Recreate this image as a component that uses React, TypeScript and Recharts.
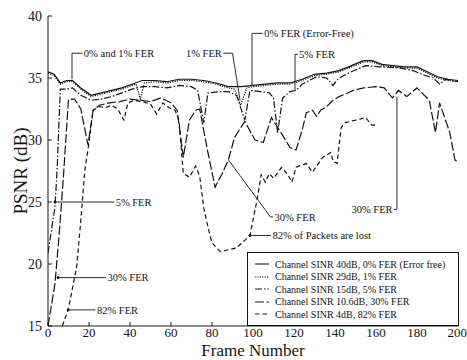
import React from 'react';
import { LineChart, Line, XAxis, YAxis, Legend, ReferenceDot } from 'recharts';

const FONT = '"Liberation Serif", "Times New Roman", Times, serif';
const INK = '#141414';

// ---- data (frame number, PSNR dB) ----
const sinr40_fer0: number[][] = [
  [0, 35.5], [3, 35.3], [6, 34.6], [9, 34.8], [12, 34.8], [16, 34.2], [21, 33.6], [26, 33.8], [31, 34.0], [36, 34.2],
  [41, 34.5], [46, 34.8], [52, 34.8], [58, 34.7], [64, 34.9], [70, 34.9], [76, 34.8], [82, 34.6], [88, 34.3], [94, 34.3],
  [100, 34.4], [106, 34.5], [112, 34.6], [118, 34.6], [124, 34.9], [130, 35.3], [136, 35.4], [142, 35.6], [148, 36.0],
  [154, 36.4], [158, 36.4], [163, 36.1], [168, 36.0], [174, 35.9], [180, 35.9], [185, 35.5], [190, 35.1], [195, 34.9], [200, 34.8],
];
const sinr29_fer1: number[][] = [
  [0, 35.4], [3, 35.2], [6, 34.5], [9, 34.7], [12, 34.7], [16, 34.1], [21, 33.5], [26, 33.7], [31, 33.9], [36, 34.1],
  [41, 34.4], [43, 34.5], [45, 33.3], [47, 34.6], [52, 34.7], [58, 34.6], [64, 34.8], [70, 34.8], [76, 34.7], [82, 34.5],
  [88, 34.2], [91, 34.1], [94, 32.8], [97, 34.2], [100, 34.3], [106, 34.4], [112, 34.5], [118, 34.5], [124, 34.8], [130, 35.2],
  [136, 35.3], [142, 35.5], [148, 35.9], [154, 36.3], [158, 36.3], [163, 36.0], [168, 35.9], [174, 35.8], [180, 35.8],
  [185, 35.4], [190, 35.0], [195, 34.8], [200, 34.7],
];
const sinr15_fer5: number[][] = [
  [0, 20.9], [3.4, 24.6], [4.5, 27.8], [6, 34.1], [9, 34.1], [12, 34.2], [16, 33.6], [21, 33.2], [26, 33.3], [31, 33.5],
  [36, 33.8], [41, 34.1], [46, 34.3], [52, 34.3], [58, 34.2], [64, 34.4], [70, 34.3], [73, 34.0], [76, 31.4], [78, 33.8],
  [84, 33.9], [88, 33.9], [92, 33.6], [96, 31.6], [98.5, 34.0], [104, 33.9], [108, 33.8], [110, 33.4], [112, 30.6],
  [114.5, 33.4], [118, 33.9], [121, 34.0], [124, 34.5], [131, 35.1], [136, 35.0], [139, 34.4], [142, 35.0], [148, 35.5],
  [155, 36.0], [162, 35.9], [172, 35.8], [178, 35.6], [184, 35.2], [188, 35.0], [191, 34.5], [194, 34.9], [200, 34.7],
];
const sinr10_fer30: number[][] = [
  [0, 15.0], [3.4, 18.4], [5.5, 22.5], [7.5, 27.0], [10, 33.3], [13, 33.3], [16, 32.5], [19.5, 29.6], [22, 32.4], [25, 32.8],
  [30, 33.0], [35, 33.1], [40, 33.3], [45, 33.2], [50, 33.1], [55, 33.4], [60, 33.0], [63, 32.4], [66, 28.6], [69, 31.6],
  [72, 32.4], [74, 32.5], [78, 29.0], [81.5, 26.2], [85, 27.3], [88, 28.4], [91, 30.2], [96, 31.5], [101, 30.0], [105, 29.8],
  [109, 31.8], [114, 30.5], [118, 29.4], [121, 29.2], [124, 30.8], [126, 32.2], [129, 32.4], [131, 31.9], [133, 32.4],
  [136, 32.7], [139, 33.2], [142, 33.5], [149, 34.0], [154, 34.2], [160, 34.3], [164, 34.2], [168, 33.4], [171, 34.0],
  [175, 33.5], [180, 34.2], [186, 33.2], [189, 30.6], [191, 33.0], [196, 30.6], [198.5, 28.4], [200, 28.2],
];
const sinr4_fer82: number[][] = [
  [7, 15.0], [10, 16.4], [14, 19.8], [16, 23.5], [18, 27.6], [19.5, 29.2], [22, 32.4], [25, 32.7], [28, 32.6], [31, 32.8],
  [34, 32.5], [37, 31.6], [39, 33.0], [42, 33.2], [46, 33.1], [50, 32.9], [53, 32.1], [56, 33.0], [59, 32.6], [62, 32.4],
  [64, 31.5], [66, 27.3], [69, 27.0], [72, 27.9], [74, 27.1], [76, 24.5], [78, 23.0], [80, 21.7], [84, 21.0], [92, 21.3],
  [98.5, 22.3], [102, 25.2], [104, 27.2], [106, 26.6], [108, 27.3], [110, 26.9], [114, 27.8], [117, 27.2], [119, 26.6],
  [121, 27.8], [124, 28.0], [126, 28.1], [129, 27.4], [134, 28.6], [138, 29.0], [139, 28.3], [141, 28.1], [143, 31.0],
  [145, 31.4], [150, 31.6], [155, 31.8], [158, 31.2], [161, 31.2],
];

const seriesNames = [
  'Channel SINR 40dB, 0% FER (Error free)',
  'Channel SINR 29dB, 1% FER',
  'Channel SINR 15dB, 5% FER',
  'Channel SINR 10.6dB, 30% FER',
  'Channel SINR 4dB, 82% FER',
];
const seriesData = [sinr40_fer0, sinr29_fer1, sinr15_fer5, sinr10_fer30, sinr4_fer82];
const seriesDash = [undefined, '1.2 1.2', '7 2 1.5 2', '9 2.5', '4.5 3'];

const xTicks = [0, 20, 40, 60, 80, 100, 120, 140, 160, 180, 200];
const yTicks = [15, 20, 25, 30, 35, 40];
const yTicksRight = [15, 17.5, 20, 22.5, 25, 27.5, 30, 32.5, 35, 37.5, 40];

// annotation texts with anchor (frame, dB) and leader polylines in data units
const annoTexts = [
  { text: '0% and 1% FER', f: 17, v: 37.0, side: 'right' },
  { text: '1% FER', f: 85.3, v: 37.0, side: 'left' },
  { text: '0% FER (Error-Free)', f: 105, v: 38.6, side: 'right' },
  { text: '5% FER', f: 122, v: 36.9, side: 'right' },
  { text: '5% FER', f: 32.5, v: 25.0, side: 'right' },
  { text: '30% FER', f: 28.5, v: 18.9, side: 'right' },
  { text: '82% FER', f: 23.4, v: 16.3, side: 'right' },
  { text: '30% FER', f: 110, v: 23.8, side: 'right' },
  { text: '82% of Packets are lost', f: 109, v: 22.3, side: 'right' },
  { text: '30% FER', f: 168.6, v: 24.4, side: 'left' },
];
const annoLeaders: number[][][] = [
  [[11.7, 34.9], [11.7, 37.0], [16.8, 37.0]],
  [[85.5, 37.0], [90, 37.0], [93.7, 33.2]],
  [[99.5, 34.4], [99.5, 38.6], [104.8, 38.6]],
  [[120.5, 34.0], [120.5, 36.9], [121.8, 36.9]],
  [[3.4, 25.0], [32.3, 25.0]],
  [[4.9, 18.9], [28.3, 18.9]],
  [[9.8, 16.3], [23.2, 16.3]],
  [[88, 28.4], [108.5, 23.8], [109.8, 23.8]],
  [[98.5, 22.3], [108.8, 22.3]],
  [[170.2, 33.5], [170.2, 24.4], [168.8, 24.4]],
];
const arrowTips = [[3.4, 25.0], [4.9, 18.9], [9.8, 16.3], [98.5, 22.3]];

const toPts = (arr: number[][]) => arr.map(([f, v]) => ({ f, v }));

function LegendBox() {
  return (
    <div
      style={{
        border: `1px solid ${INK}`,
        background: '#fff',
        boxSizing: 'border-box',
        width: 212,
        height: 74,
        padding: '5px 0 0 7px',
        fontFamily: FONT,
        fontSize: 10,
        color: INK,
      }}
    >
      {seriesNames.map((n, i) => (
        <div key={n} style={{ display: 'flex', alignItems: 'center', height: 12.5 }}>
          <svg width={16} height={8} style={{ marginRight: 4 }}>
            <line x1={0} y1={4} x2={14} y2={4} stroke={INK} strokeWidth={1.1} strokeDasharray={seriesDash[i]} />
          </svg>
          <span style={{ whiteSpace: 'nowrap' }}>{n}</span>
        </div>
      ))}
    </div>
  );
}

export default function App() {
  return (
    <div style={{ position: 'absolute', left: 0, top: 0, width: 467, height: 360, background: '#fff' }}>
      <LineChart width={467} height={360} margin={{ top: 16, right: 9, bottom: 0, left: 0 }}>
        <XAxis
          dataKey="f"
          type="number"
          domain={[0, 200]}
          ticks={xTicks}
          allowDataOverflow
          height={34}
          tickSize={-4}
          tickMargin={6}
          stroke={INK}
          tick={{ fontSize: 13, fill: INK, fontFamily: FONT }}
          label={{ value: 'Frame Number', position: 'insideBottom', offset: 4, style: { fontSize: 17, fill: INK, fontFamily: FONT } }}
        />
        <XAxis xAxisId="top" orientation="top" dataKey="f" type="number" domain={[0, 200]} ticks={xTicks} allowDataOverflow height={0} tickSize={-4} tick={false} stroke={INK} />
        <YAxis
          type="number"
          domain={[15, 40]}
          ticks={yTicks}
          allowDataOverflow
          width={48}
          tickSize={-4}
          tickMargin={10}
          stroke={INK}
          tick={{ fontSize: 14, fill: INK, fontFamily: FONT }}
          label={{ value: 'PSNR (dB)', angle: -90, position: 'insideLeft', offset: 20, style: { textAnchor: 'middle', fontSize: 19, fill: INK, fontFamily: FONT } }}
        />
        <YAxis yAxisId="right" orientation="right" type="number" domain={[15, 40]} ticks={yTicksRight} allowDataOverflow width={0} tickSize={-3} tick={false} stroke={INK} />

        {seriesData.map((d, i) => (
          <Line
            key={seriesNames[i]}
            name={seriesNames[i]}
            data={toPts(d)}
            dataKey="v"
            type="linear"
            stroke={INK}
            strokeWidth={1.2}
            strokeDasharray={seriesDash[i]}
            dot={false}
            activeDot={false}
            isAnimationActive={false}
          />
        ))}

        {annoLeaders.map((d, i) => (
          <Line
            key={'leader' + i}
            name={'leader' + i}
            data={toPts(d)}
            dataKey="v"
            type="linear"
            stroke={INK}
            strokeWidth={0.9}
            dot={false}
            activeDot={false}
            legendType="none"
            isAnimationActive={false}
          />
        ))}

        {arrowTips.map(([f, v], i) => (
          <ReferenceDot key={'tip' + i} x={f} y={v} r={1.4} fill={INK} stroke="none" />
        ))}

        {annoTexts.map((a, i) => (
          <ReferenceDot
            key={'anno' + i}
            x={a.f}
            y={a.v}
            r={0}
            fill="none"
            stroke="none"
            label={{ value: a.text, position: a.side as any, offset: 1, fill: INK, style: { fontSize: 10.5, fontFamily: FONT, fill: INK } }}
          />
        ))}

        <Legend
          layout="vertical"
          align="center"
          verticalAlign="middle"
          content={() => <LegendBox />}
          wrapperStyle={{ left: 247, top: 252, width: 212, height: 74 }}
        />
      </LineChart>
    </div>
  );
}
